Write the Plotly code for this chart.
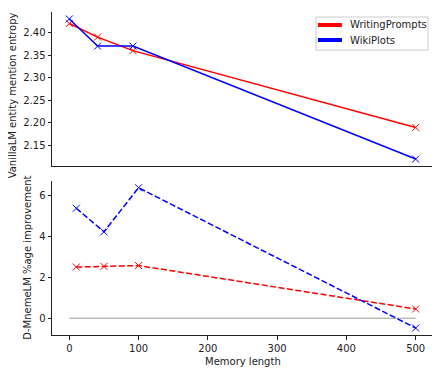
import plotly.graph_objects as go
from plotly.subplots import make_subplots

# Geheugenlengtes en gemeten waarden per dataset.
memory = [10, 50, 100, 500]
wp_entropy = [2.42, 2.39, 2.36, 2.19]
wiki_entropy = [2.43, 2.37, 2.37, 2.12]
wp_improve = [2.50, 2.53, 2.57, 0.45]
wiki_improve = [5.37, 4.22, 6.37, -0.48]
zero_x = [0, 500]
zero_y = [0, 0]
series_names = ["WritingPrompts", "WikiPlots"]
series_colors = ["red", "blue"]

font = dict(family="DejaVu Sans", size=10, color="#222")

fig = make_subplots(rows=2, cols=1, vertical_spacing=0.045)

def add_series(x, y, color, row, dash):
    fig.add_trace(go.Scatter(x=x, y=y, mode="lines+markers", showlegend=False,
                             line=dict(color=color, width=1.5, dash=dash),
                             marker=dict(symbol="x-thin", size=7,
                                         line=dict(width=1, color=color))),
                  row=row, col=1)

add_series(memory, wp_entropy, "red", 1, "solid")
add_series(memory, wiki_entropy, "blue", 1, "solid")
fig.add_trace(go.Scatter(x=zero_x, y=zero_y, mode="lines", showlegend=False,
                         line=dict(color="gray", width=0.8)), row=2, col=1)
add_series(memory, wp_improve, "red", 2, "6px,2.5px")
add_series(memory, wiki_improve, "blue", 2, "6px,2.5px")

axis = dict(showline=True, linecolor="#222", linewidth=1, showgrid=False,
            zeroline=False, ticks="outside", ticklen=3.5, tickcolor="#222",
            tickfont=font, automargin=False)
fig.update_xaxes(**axis)
fig.update_yaxes(**axis)
fig.update_xaxes(range=[-14.5, 524.5], showticklabels=False, ticks="", row=1, col=1)
fig.update_xaxes(range=[-25, 525], tickvals=[0, 100, 200, 300, 400, 500], row=2, col=1)
fig.update_yaxes(range=[2.1045, 2.4455], tickvals=[2.15, 2.20, 2.25, 2.30, 2.35, 2.40],
                 tickformat=".2f", domain=[0.523, 1], row=1, col=1)
fig.update_yaxes(range=[-0.82, 6.72], tickvals=[0, 2, 4, 6],
                 domain=[0, 0.478], row=2, col=1)

# Compacte legenda (zoals matplotlib) met vormen en tekst.
shapes = [dict(type="rect", xref="paper", yref="paper", x0=0.693, x1=0.987,
               y0=0.882, y1=0.9845, line=dict(color="#ccc", width=1),
               fillcolor="white", layer="above")]
annotations = []
for i, (name, color) in enumerate(zip(series_names, series_colors)):
    yl = 0.9598 - i * 0.0465
    shapes.append(dict(type="line", xref="paper", yref="paper", x0=0.698, x1=0.761,
                       y0=yl, y1=yl, line=dict(color=color, width=4), layer="above"))
    annotations.append(dict(text=name, xref="paper", yref="paper", x=0.777, y=yl,
                            xanchor="left", yanchor="middle", showarrow=False, font=font))

annotations += [
    dict(text="VanillaLM entity mention entropy", textangle=-90,
         xref="paper", yref="paper", x=-0.105, y=0.742,
         xanchor="center", yanchor="middle", showarrow=False, font=font),
    dict(text="D-MnemeLM %age improvement", textangle=-90,
         xref="paper", yref="paper", x=-0.065, y=0.24,
         xanchor="center", yanchor="middle", showarrow=False, font=font),
    dict(text="Memory length", xref="paper", yref="paper", x=0.5, y=0,
         yshift=-19, xanchor="center", yanchor="top", showarrow=False, font=font),
]

# De pagina heeft 8px body-marge, dus de marges zijn daarvoor gecorrigeerd.
fig.update_layout(
    width=440, height=373,
    margin=dict(l=44, r=15, t=4, b=46),
    paper_bgcolor="white", plot_bgcolor="white",
    font=font, showlegend=False,
    shapes=shapes, annotations=annotations,
)

fig.write_html("out.html")
